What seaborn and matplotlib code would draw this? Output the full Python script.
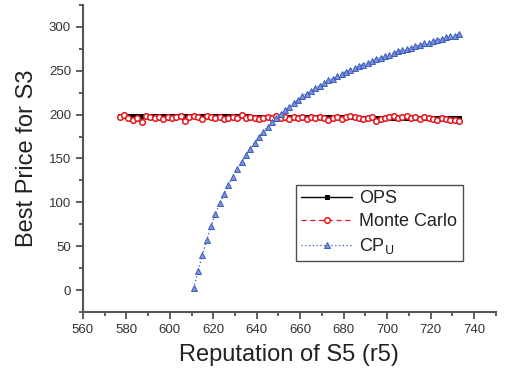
import numpy as np
import pandas as pd
import matplotlib
matplotlib.use("Agg")
import matplotlib.pyplot as plt
import seaborn as sns
from matplotlib.ticker import MultipleLocator

sns.set_style("ticks")
plt.rcParams['font.family'] = ['Liberation Sans', 'DejaVu Sans']

# ---- data ----
r5_ops = list(range(577, 735, 2))
ops = [198, 198, 198, 198, 198, 198, 198, 198, 198, 198,
       198, 198, 198, 198, 198, 198, 198, 198, 198, 198,
       198, 198, 198, 198, 198, 198, 198, 198, 198, 198,
       197, 197, 197, 197, 197, 197, 197, 197, 197, 197,
       197, 197, 197, 197, 197, 197, 197, 197, 197, 197,
       197, 197, 197, 197, 197, 196, 196, 196, 196, 196,
       196, 196, 196, 196, 196, 196, 196, 196, 196, 196,
       196, 196, 196, 196, 196, 196, 196, 196, 196]
monte_carlo = [197, 199, 196, 194, 196, 191, 198, 197, 196, 197,
               195, 197, 196, 197, 198, 193, 197, 198, 197, 195,
               198, 197, 196, 197, 195, 196, 197, 196, 199, 196,
               197, 196, 195, 196, 197, 196, 198, 196, 197, 195,
               197, 196, 197, 195, 197, 196, 197, 196, 194, 196,
               197, 195, 197, 198, 197, 196, 195, 196, 197, 193,
               195, 196, 197, 198, 196, 197, 198, 196, 197, 195,
               197, 196, 195, 194, 196, 195, 194, 194, 193]
r5_cpu = list(range(611, 735, 2))
cpu = [2, 22, 40, 57, 73, 87, 99, 110, 120, 129,
       138, 146, 154, 161, 168, 174, 180, 186, 191, 196,
       201, 205, 209, 213, 217, 221, 224, 227, 230, 233,
       236, 239, 241, 244, 246, 249, 251, 253, 255, 257,
       259, 261, 263, 265, 267, 268, 270, 272, 273, 275,
       276, 278, 279, 281, 282, 284, 285, 286, 288, 289,
       290, 292]

labels = ["OPS", "Monte Carlo", r"CP$_\mathrm{U}$"]
x_label = "Reputation of S5 (r5)"
y_label = "Best Price for S3"

fig = plt.figure(figsize=(5.05, 3.72), dpi=100)
ax = fig.add_axes([0.164, 0.161, 0.818, 0.826])

sns.lineplot(x=r5_ops, y=ops, ax=ax, color="black", lw=1.0, marker="s",
             markersize=3.5, markeredgecolor="black", label=labels[0])
sns.lineplot(x=r5_ops, y=monte_carlo, ax=ax, color="#e8141c", lw=0.9,
             linestyle=(0, (4, 3)), marker="o", markersize=4,
             markerfacecolor="white", markeredgecolor="#e8141c",
             markeredgewidth=1.1, label=labels[1])
sns.lineplot(x=r5_cpu, y=cpu, ax=ax, color="#3a5bbf", lw=0.9,
             linestyle=(0, (1, 2)), marker="^", markersize=4,
             markerfacecolor="#7b93d6", markeredgecolor="#3a5bbf",
             markeredgewidth=0.7, label=labels[2])

ax.set_xlim(560, 750)
ax.set_ylim(-25, 325)
ax.xaxis.set_major_locator(MultipleLocator(20))
ax.xaxis.set_minor_locator(MultipleLocator(10))
ax.yaxis.set_major_locator(MultipleLocator(50))
ax.yaxis.set_minor_locator(MultipleLocator(25))
ax.set_xticks(range(560, 741, 20))
ax.tick_params(axis="both", which="major", direction="out", length=5,
               width=1.2, colors="#444444", labelsize=9.5, labelcolor="#333333")
ax.tick_params(axis="both", which="minor", direction="out", length=3,
               width=1.2, colors="#444444")
for s in ["top", "right"]:
    ax.spines[s].set_visible(False)
for s in ["left", "bottom"]:
    ax.spines[s].set_color("#555555")
    ax.spines[s].set_linewidth(1.5)

ax.set_xlabel(x_label, fontsize=17, color="#222222", labelpad=6)
ax.set_ylabel(y_label, fontsize=17, color="#222222", labelpad=8)

leg = ax.legend(loc="upper left", bbox_to_anchor=(0.516, 0.414), fontsize=13,
                frameon=True, fancybox=False, edgecolor="#222222",
                handlelength=2.8, handletextpad=0.4, borderpad=0.3,
                labelspacing=0.32, borderaxespad=0)
leg.get_frame().set_linewidth(1.0)
for t in leg.get_texts():
    t.set_color("#222222")

fig.savefig("out.png", dpi=100)
